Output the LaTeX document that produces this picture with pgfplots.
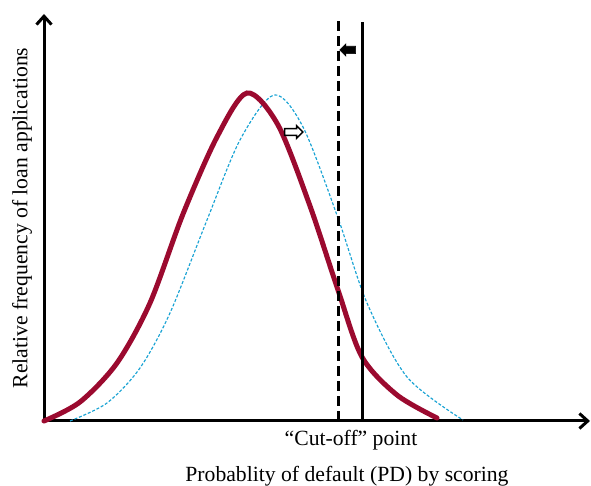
\documentclass[border=0pt]{standalone}
\usepackage{pgfplots}
\pgfplotsset{compat=1.18}
\usepackage{fontspec}
\setmainfont{Liberation Serif}
\usetikzlibrary{arrows.meta,shapes.arrows}
\definecolor{redc}{HTML}{9B0A2F}
\definecolor{bluec}{HTML}{1AA3D4}
\begin{document}
\begin{tikzpicture}
\begin{axis}[
  name=ax,
  x=0.6pt, y=0.6pt,
  xmin=0, xmax=591, ymin=0, ymax=486,
  hide axis, clip=false, scale only axis,
]
% axes
\addplot[line width=1.8pt, -{Straight Barb[length=5pt,width=9pt,line width=1.8pt]}] coordinates {(44,65) (590,65)};
\addplot[line width=1.8pt, -{Straight Barb[length=5pt,width=9pt,line width=1.8pt]}] coordinates {(44,65) (44,472)};
% shifted distribution (blue dashed)
\addplot[bluec, line width=0.7pt, dash pattern=on 1.8pt off 1.1pt, smooth] coordinates {
(70,65) (107,83) (140,118) (170,173) (207,266) (240,346) (274,391) (303,359) (338,268) (367,183) (407,109) (463,66)};
% original distribution (red)
\addplot[redc, line width=3pt, smooth, line cap=round] coordinates {
(44,65) (80,84) (117,123) (150,183) (183,272) (217,349) (247,393) (278,361) (310,280) (338,196) (362,129) (397,91) (437,68)};
% cut-off lines
\addplot[black, line width=1.8pt, dash pattern=on 6pt off 3pt] coordinates {(338,65) (338,467)};
\addplot[black, line width=1.8pt] coordinates {(362,65) (362,464)};
% arrows
\node[single arrow, fill=black, draw=black, inner sep=2pt, single arrow head extend=1.4pt, minimum height=9.5pt, shape border rotate=180] at (axis cs:349.5,436) {};
\node[single arrow, fill=white, draw=black, line width=0.9pt, inner sep=1.6pt, single arrow head extend=1.7pt, minimum height=11pt] at (axis cs:292,354) {};
% labels
\node[font=\fontsize{13}{15}\selectfont] at (axis cs:351,46) {“Cut-off” point};
\node[font=\fontsize{13}{15}\selectfont] at (axis cs:347,10) {Probablity of default (PD) by scoring};
\node[font=\fontsize{13}{15}\selectfont, rotate=90] at (axis cs:22,268) {Relative frequency of loan applications};
\end{axis}
\pgfresetboundingbox
\path (ax.south west) rectangle (ax.north east);
\end{tikzpicture}
\end{document}
